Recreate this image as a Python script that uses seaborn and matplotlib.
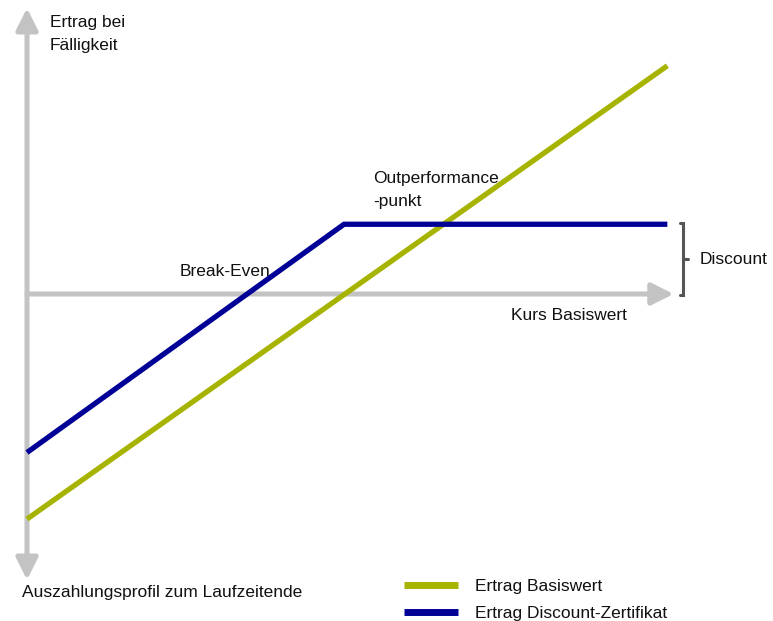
import matplotlib
matplotlib.use("Agg")
import matplotlib.pyplot as plt
import seaborn as sns
import pandas as pd

sns.set_theme(style="white")
plt.rcParams["font.family"] = ["Liberation Sans", "DejaVu Sans"]

# Payoff at maturity (price of the underlying, cap at 100)
kurs = [0, 202]
ertrag_basiswert = [-71, 72]
kurs_zertifikat = [0, 100, 202]
ertrag_zertifikat = [-50, 22, 22]
series_names = ["Ertrag Basiswert", "Ertrag Discount-Zertifikat"]
colors = ["#a6b300", "#000096"]

df = pd.DataFrame({
    "Kurs": kurs + kurs_zertifikat,
    "Ertrag": ertrag_basiswert + ertrag_zertifikat,
    "Serie": [series_names[0]] * len(kurs) + [series_names[1]] * len(kurs_zertifikat),
})

W, H = 773, 621
fig = plt.figure(figsize=(W / 100, H / 100), dpi=100)
ax = fig.add_axes([0, 0, 1, 1])

# pixel scale: 1 unit = 3.17 px, origin at (27, 294)
s = 3.17
ax.set_xlim(-27 / s, (W - 27) / s)
ax.set_ylim((294 - H) / s, 294 / s)

grey = "#c3c3c3"
# axes arrows
ax.annotate("", xy=(0, 90.2), xytext=(0, -90.2),
            arrowprops=dict(arrowstyle="<|-|>,head_length=1.1,head_width=0.55",
                            color=grey, lw=3.6, shrinkA=0, shrinkB=0), zorder=1)
ax.annotate("", xy=(204, 0), xytext=(0, 0),
            arrowprops=dict(arrowstyle="-|>,head_length=1.1,head_width=0.55",
                            color=grey, lw=3.6, shrinkA=0, shrinkB=0), zorder=1)

sns.lineplot(data=df, x="Kurs", y="Ertrag", hue="Serie", hue_order=series_names,
             palette=colors, estimator=None, sort=False, linewidth=3.8, ax=ax,
             zorder=3)
for ln in ax.lines:
    ln.set_solid_joinstyle("miter")
    ln.set_solid_capstyle("butt")

# discount bracket
bx = (683 - 27) / s
top, bot = 22.5, -0.3
bc = "#555555"
ax.plot([bx - 1.0, bx, bx, bx - 1.0], [top, top, bot, bot], color=bc, lw=2.2,
        solid_joinstyle="miter")
ax.plot([bx, bx + 1.6], [(top + bot) / 2] * 2, color=bc, lw=2.2)

fs = 12.5
tc = "#111111"
def label(px, py, txt, va="center", ha="left"):
    ax.text((px - 27) / s, (294 - py) / s, txt, fontsize=fs, color=tc, ha=ha, va=va,
            linespacing=1.62)

label(50, 34, "Ertrag bei\nFälligkeit")
label(373, 190, "Outperformance\n-punkt")
label(180, 272, "Break-Even")
label(700, 260, "Discount")
label(511, 316, "Kurs Basiswert")
label(22, 592, "Auszahlungsprofil zum Laufzeitende")

leg = ax.legend(title=None, frameon=False, fontsize=fs, loc="upper left",
                bbox_to_anchor=(397 / W, 1 - 572 / H), handlelength=3.1,
                handletextpad=1.0, labelspacing=0.7, borderaxespad=0)
for h in leg.get_lines():
    h.set_linewidth(5)
for t in leg.get_texts():
    t.set_color(tc)

ax.set_axis_off()
fig.savefig("out.png", dpi=100)
